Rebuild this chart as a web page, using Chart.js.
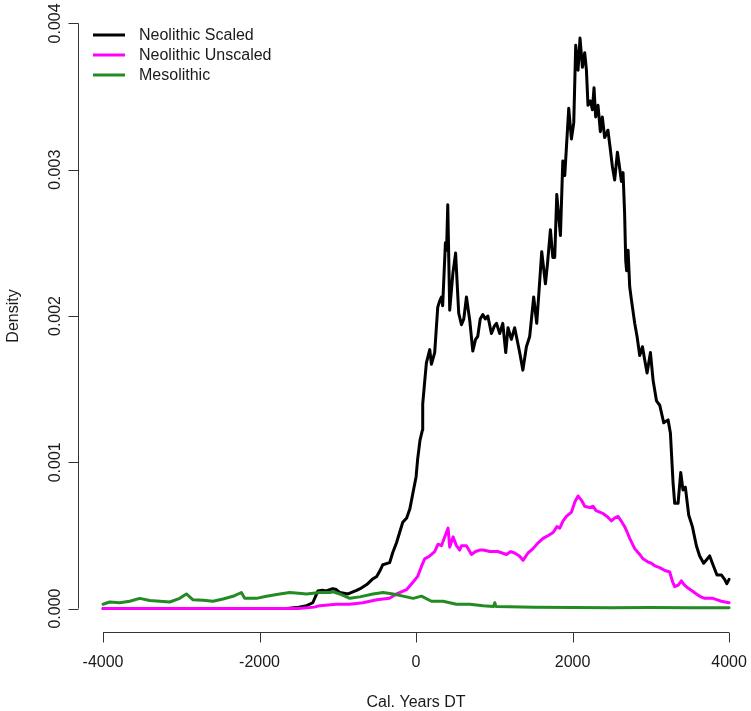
<!DOCTYPE html>
<html>
<head>
<meta charset="utf-8">
<style>
  html, body { margin: 0; padding: 0; background: #fff; }
  #wrap { width: 751px; height: 711px; }
</style>
<script src="https://cdn.jsdelivr.net/npm/chart.js"></script>
</head>
<body>
<div id="wrap"><canvas id="chart" width="751" height="711"></canvas></div>
<script>
// values
const neoScaledYears = [-4000, -1700, -1650, -1500, -1400, -1320, -1255, -1200, -1150, -1065, -1020, -975, -870, -760, -700, -630, -560, -503, -460, -425, -337, -300, -250, -210, -170, -120, -80, -40, 0, 20, 50, 81, 85, 110, 132, 175, 196, 238, 277, 300, 324, 340, 375, 390, 405, 430, 470, 505, 545, 580, 610, 644, 686, 725, 760, 788, 820, 853, 885, 917, 963, 1000, 1027, 1069, 1108, 1146, 1175, 1218, 1260, 1324, 1365, 1410, 1452, 1503, 1542, 1575, 1606, 1653, 1680, 1717, 1747, 1772, 1798, 1845, 1875, 1900, 1951, 1985, 2015, 2040, 2070, 2095, 2126, 2155, 2177, 2197, 2228, 2253, 2274, 2295, 2325, 2355, 2380, 2410, 2452, 2480, 2509, 2538, 2573, 2602, 2624, 2645, 2665, 2679, 2690, 2709, 2730, 2752, 2794, 2824, 2858, 2893, 2922, 2952, 2995, 3029, 3072, 3114, 3165, 3220, 3250, 3284, 3305, 3348, 3382, 3411, 3441, 3484, 3531, 3582, 3624, 3675, 3752, 3794, 3845, 3901, 3943, 3970, 4000];
const neoScaledDensity = [0, 0, 0, 0.00001, 0.00002, 0.00004, 0.00012, 0.000125, 0.00012, 0.000136, 0.00013, 0.00011, 0.0001, 0.000125, 0.00014, 0.000164, 0.0002, 0.00022, 0.00026, 0.0003, 0.000314, 0.00038, 0.00045, 0.00052, 0.00059, 0.00062, 0.00068, 0.00079, 0.0009, 0.00102, 0.00115, 0.00122, 0.0014, 0.00155, 0.00168, 0.00177, 0.00167, 0.00175, 0.00206, 0.0021, 0.00213, 0.00207, 0.0025, 0.00245, 0.00276, 0.00204, 0.00229, 0.00243, 0.00202, 0.00194, 0.00198, 0.00213, 0.00197, 0.00176, 0.00184, 0.00186, 0.00198, 0.00201, 0.00198, 0.002, 0.00188, 0.00193, 0.00195, 0.00188, 0.00195, 0.00175, 0.00192, 0.00184, 0.00192, 0.00175, 0.00163, 0.00179, 0.00186, 0.00213, 0.00195, 0.0022, 0.00244, 0.00222, 0.00236, 0.00259, 0.0024, 0.0024, 0.00283, 0.00255, 0.00306, 0.00296, 0.00342, 0.00321, 0.00332, 0.00385, 0.00368, 0.0039, 0.0037, 0.0038, 0.00368, 0.00344, 0.00347, 0.00341, 0.00356, 0.00336, 0.00344, 0.00326, 0.00336, 0.00322, 0.00327, 0.00315, 0.00302, 0.00293, 0.00312, 0.00301, 0.00292, 0.00298, 0.0027, 0.00238, 0.00231, 0.00245, 0.0022, 0.00211, 0.00195, 0.00186, 0.00173, 0.00179, 0.0017, 0.00161, 0.00175, 0.00156, 0.00142, 0.00139, 0.00127, 0.00129, 0.0012, 0.00086, 0.00072, 0.00072, 0.00093, 0.00081, 0.00083, 0.00064, 0.00056, 0.00043, 0.00036, 0.00031, 0.00036, 0.0003, 0.00023, 0.00023, 0.0002, 0.00017, 0.0002];

const neoUnscaledYears = [-4000, -1500, -1300, -1230, -1020, -850, -680, -500, -340, -250, -120, -40, 20, 70, 110, 175, 238, 281, 324, 366, 409, 430, 473, 516, 558, 580, 644, 708, 760, 814, 857, 942, 985, 1044, 1100, 1155, 1210, 1260, 1320, 1367, 1430, 1495, 1560, 1623, 1690, 1751, 1800, 1836, 1879, 1921, 1986, 2030, 2070, 2114, 2155, 2220, 2261, 2300, 2347, 2389, 2440, 2496, 2540, 2581, 2620, 2666, 2700, 2730, 2794, 2858, 2900, 2960, 3007, 3060, 3113, 3180, 3241, 3280, 3305, 3350, 3390, 3430, 3475, 3530, 3582, 3640, 3688, 3794, 3850, 3901, 4000];
const neoUnscaledDensity = [0, 0, 0.00001, 0.00002, 0.00003, 0.00003, 0.00004, 0.00006, 0.00007, 0.0001, 0.00013, 0.00018, 0.00022, 0.00029, 0.00034, 0.00036, 0.00039, 0.00044, 0.00043, 0.00049, 0.00055, 0.00042, 0.00049, 0.00043, 0.0004, 0.00043, 0.00043, 0.00037, 0.00039, 0.0004, 0.0004, 0.00039, 0.00039, 0.00039, 0.00038, 0.00037, 0.00039, 0.00038, 0.00036, 0.00033, 0.00038, 0.00041, 0.00045, 0.00048, 0.0005, 0.00052, 0.00056, 0.00055, 0.0006, 0.00063, 0.00066, 0.00073, 0.00077, 0.00074, 0.0007, 0.00069, 0.0007, 0.00067, 0.00066, 0.00065, 0.00063, 0.0006, 0.00062, 0.00063, 0.0006, 0.00056, 0.00052, 0.00048, 0.00041, 0.00037, 0.00034, 0.00032, 0.00031, 0.00029, 0.00028, 0.00026, 0.00025, 0.00018, 0.00015, 0.00016, 0.00019, 0.00016, 0.00014, 0.00012, 0.0001, 0.00008, 0.00007, 0.00007, 0.00006, 0.00005, 0.00004];

const mesoYears = [-4000, -3914, -3786, -3659, -3531, -3403, -3275, -3148, -3020, -2935, -2850, -2722, -2594, -2467, -2339, -2232, -2190, -2040, -1912, -1742, -1614, -1500, -1401, -1230, -1103, -1060, -975, -847, -720, -550, -422, -294, -166, -38, 69, 196, 345, 516, 686, 857, 990, 1006, 1020, 1200, 1500, 2000, 2500, 3000, 3500, 4000];
const mesoDensity = [0.00003, 0.000045, 0.00004, 0.00005, 0.00007, 0.000055, 0.00005, 0.000045, 0.00007, 0.0001, 0.00006, 0.000057, 0.00005, 0.000066, 0.000084, 0.00011, 0.00007, 0.00007, 0.000084, 0.0001, 0.00011, 0.000105, 0.0001, 0.00011, 0.00011, 0.000115, 0.0001, 0.00007, 0.00008, 0.0001, 0.00011, 0.0001, 0.000085, 0.00007, 0.000085, 0.00005, 0.00005, 0.00003, 0.00003, 0.00002, 0.000015, 0.00004, 0.000015, 0.000012, 0.00001, 0.000008, 0.000006, 0.000007, 0.000006, 0.000005];

const xTicks = [-4000, -2000, 0, 2000, 4000];
const yTicks = [0, 0.001, 0.002, 0.003, 0.004];
const yTickLabels = ['0.000', '0.001', '0.002', '0.003', '0.004'];

const FONT = '16px "Liberation Sans", Arial, Helvetica, sans-serif';

function toPoints(xs, ys) {
    return xs.map((x, i) => ({ x: x, y: ys[i] }));
}

// R-style axes: detached lines spanning only the tick range, ticks pointing outward
const rAxes = {
    id: 'rAxes',
    afterDraw(chart) {
        const ctx = chart.ctx;
        const xs = chart.scales.x, ys = chart.scales.y;
        const area = chart.chartArea;
        ctx.save();
        ctx.strokeStyle = '#333';
        ctx.lineWidth = 1;
        ctx.fillStyle = '#1a1a1a';
        ctx.font = FONT;

        // y axis
        const ax = Math.round(area.left) + 0.5;
        ctx.beginPath();
        ctx.moveTo(ax, ys.getPixelForValue(yTicks[0]));
        ctx.lineTo(ax, ys.getPixelForValue(yTicks[yTicks.length - 1]));
        yTicks.forEach(v => {
            const py = Math.round(ys.getPixelForValue(v)) + 0.5;
            ctx.moveTo(ax, py);
            ctx.lineTo(ax - 10, py);
        });
        ctx.stroke();
        ctx.textAlign = 'center';
        ctx.textBaseline = 'alphabetic';
        yTicks.forEach((v, i) => {
            ctx.save();
            ctx.translate(ax - 19, ys.getPixelForValue(v));
            ctx.rotate(-Math.PI / 2);
            ctx.fillText(yTickLabels[i], 0, 0);
            ctx.restore();
        });

        // x axis
        const ay = Math.round(area.bottom) + 0.5;
        ctx.beginPath();
        ctx.moveTo(xs.getPixelForValue(xTicks[0]), ay);
        ctx.lineTo(xs.getPixelForValue(xTicks[xTicks.length - 1]), ay);
        xTicks.forEach(v => {
            const px = Math.round(xs.getPixelForValue(v)) + 0.5;
            ctx.moveTo(px, ay);
            ctx.lineTo(px, ay + 10);
        });
        ctx.stroke();
        ctx.textBaseline = 'middle';
        xTicks.forEach(v => {
            ctx.fillText(String(v), xs.getPixelForValue(v), ay + 30);
        });

        // titles
        ctx.fillText('Cal. Years DT', xs.getPixelForValue(0), ay + 70);
        ctx.save();
        ctx.translate(ax - 61, (area.top + area.bottom) / 2);
        ctx.rotate(-Math.PI / 2);
        ctx.textBaseline = 'alphabetic';
        ctx.fillText('Density', 0, 0);
        ctx.restore();

        // legend, top-left inside plot
        ctx.textAlign = 'left';
        ctx.textBaseline = 'middle';
        chart.data.datasets.forEach((ds, i) => {
            const ly = 35 + i * 20;
            ctx.strokeStyle = ds.borderColor;
            ctx.lineWidth = 3;
            ctx.beginPath();
            ctx.moveTo(93, ly);
            ctx.lineTo(125, ly);
            ctx.stroke();
            ctx.fillStyle = '#1a1a1a';
            ctx.fillText(ds.label, 139, ly + 1);
        });
        ctx.restore();
    }
};

new Chart(document.getElementById('chart'), {
    type: 'line',
    data: {
        datasets: [
            {
                label: 'Neolithic Scaled',
                data: toPoints(neoScaledYears, neoScaledDensity),
                borderColor: '#000000',
                order: 3
            },
            {
                label: 'Neolithic Unscaled',
                data: toPoints(neoUnscaledYears, neoUnscaledDensity),
                borderColor: '#ff00ff',
                order: 2
            },
            {
                label: 'Mesolithic',
                data: toPoints(mesoYears, mesoDensity),
                borderColor: '#228b22',
                order: 1
            }
        ]
    },
    options: {
        responsive: false,
        animation: false,
        layout: { padding: { left: 78, right: 0, top: 0, bottom: 79 } },
        elements: {
            point: { radius: 0 },
            line: { borderWidth: 3, tension: 0, borderJoinStyle: 'round', borderCapStyle: 'round' }
        },
        scales: {
            x: { type: 'linear', min: -4320, max: 4280, display: false },
            y: { type: 'linear', min: -0.00016, max: 0.00416, display: false }
        },
        plugins: {
            legend: { display: false },
            tooltip: { enabled: false }
        }
    },
    plugins: [rAxes]
});
</script>
</body>
</html>
